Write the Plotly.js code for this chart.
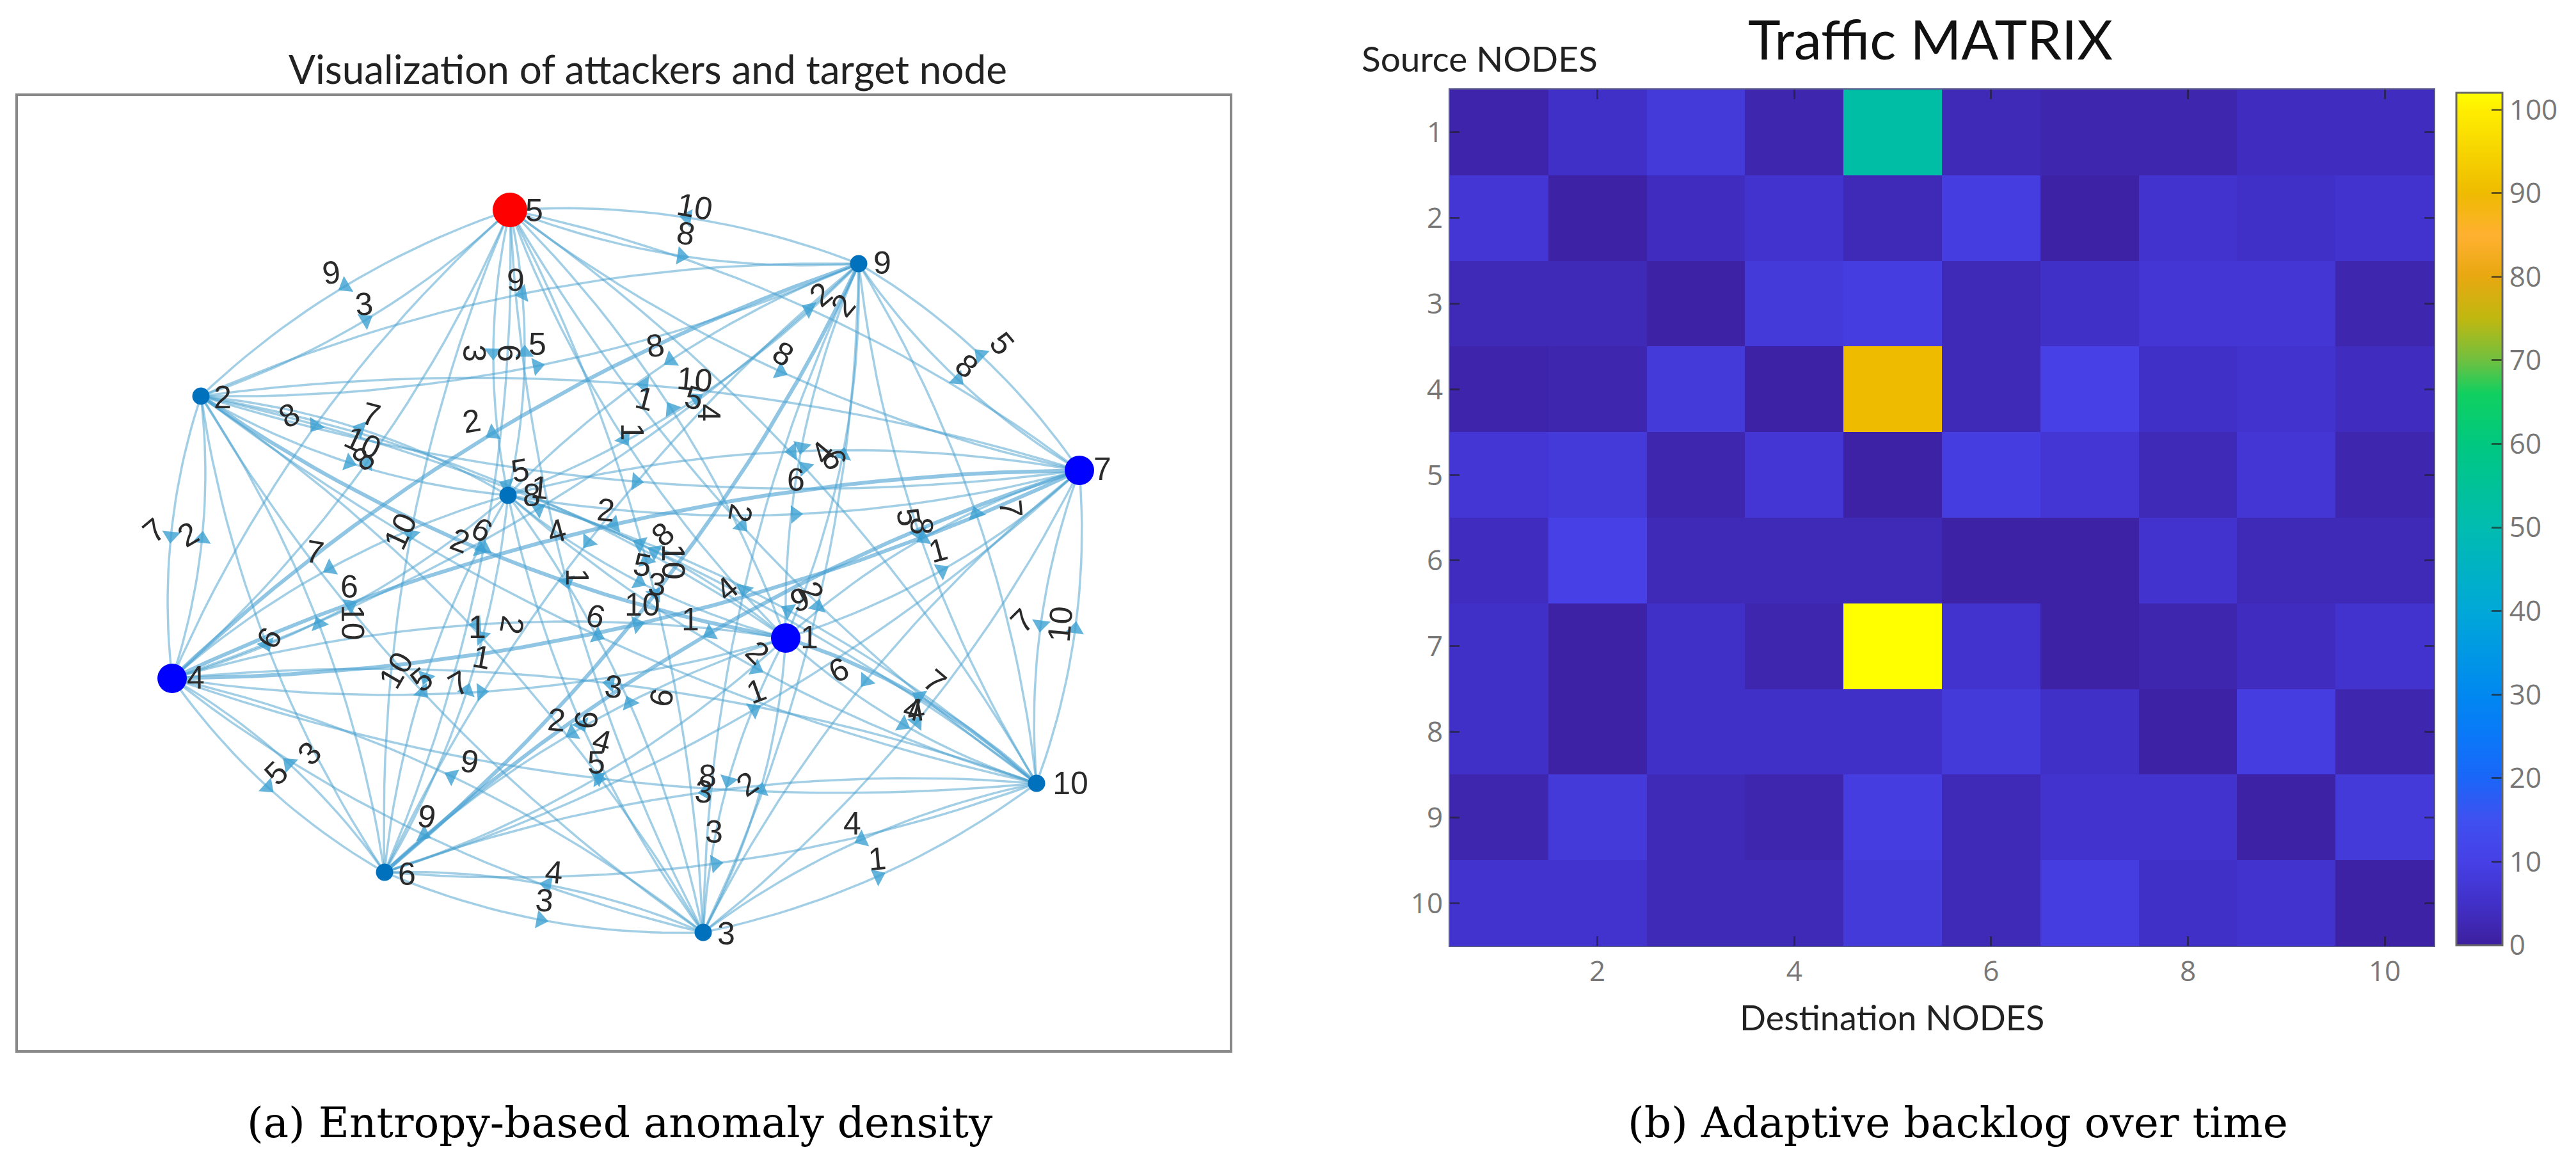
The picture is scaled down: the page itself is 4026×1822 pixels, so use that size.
<!DOCTYPE html>
<html><head><meta charset="utf-8">
<script src="https://cdn.plot.ly/plotly-3.0.0.min.js"></script>
<style>html,body{margin:0;padding:0;background:#fff}#c{width:4026px;height:1822px}</style>
</head><body><div id="c"></div>
<script>
const W=4026,H=1822;
// graph nodes (axis units match the picture's pixels)
const nodeIds=[1,2,3,4,5,6,7,8,9,10];
const nodeX=[1228,314,1099,269,797,601,1687,794,1342,1620];
const nodeY=[997,619,1457,1060,328,1363,735,774,412,1224];
const nodeColor=['#0000ff','#0072BD','#0072BD','#0000ff','#ff0000','#0072BD','#0000ff','#0072BD','#0072BD','#0072BD'];
const nodeSize=[46,27,27,46,54,27,46,27,27,27];
const nodeLabelX=[1265,348,1135,306,835,636,1723,831,1379,1673];
const nodeLabelY=[1000,625,1463,1063,333,1370,737,778,415,1228];
// heavier directed edges
const heavySource=[2,10,4,7,9,7,6];
const heavyTarget=[1,1,7,4,4,6,9];
// edge weight labels
const edgeText=['9','3','3','6','9','5','8','7','10','8','2','10','8','8','10','5','4','1','1','8','10','2','2','4','6','6','5','1','2','4','1','8','10','5','3','10','1','4','2','9','2','2','6','6','2','1','1','3','6','1','2','9','4','5','8','3','2','7','2','7','10','2','6','6','10','6','10','5','7','3','5','9','9','4','3','3','4','1','8','5','5','8','7','1','7','10','7','4','4'];
const edgeX=[518,569,741,795,806,840,1024,580,567,568,737,1086,1072,1224,1086,1085,1108,1008,988,452,1052,1283,1318,1286,1304,1244,813,844,947,870,902,1036,1052,1004,1027,1004,1079,1136,1157,1250,1268,1184,1311,931,800,746,753,959,1034,1182,870,916,941,932,1106,1100,1168,241,294,492,626,719,753,546,551,421,619,659,717,484,432,734,667,866,851,1116,1332,1371,1511,1566,1420,1440,1580,1466,1598,1657,1461,1427,1431];
const edgeY=[426,475,552,552,438,538,540,648,692,717,658,323,365,553,593,622,645,623,675,649,878,460,477,707,718,750,735,762,797,830,902,835,878,883,913,945,968,920,802,937,925,1020,1047,963,977,980,1027,1073,1090,1080,1125,1125,1158,1192,1213,1237,1225,829,835,863,830,845,828,917,973,997,1047,1062,1068,1177,1208,1190,1276,1363,1407,1300,1287,1342,572,537,808,822,795,860,970,975,1065,1108,1110];
const edgeAngle=[-8,-5,90,90,0,0,-10,15,25,-40,-10,10,10,30,5,15,90,15,90,-30,90,-40,-50,-50,60,0,-10,5,5,-15,90,-40,90,10,5,0,0,-40,100,-20,60,45,-25,15,100,0,10,5,-80,-20,5,95,15,0,0,5,-35,-40,-30,10,-65,20,30,0,90,-60,-60,-40,-30,-45,-45,10,10,5,5,0,0,-5,40,50,80,90,85,-15,-45,-85,40,15,-10];
// heatmap
const colTicks=[2,4,6,8,10];
const rowTicks=[1,2,3,4,5,6,7,8,9,10];
const cbTicks=[0,10,20,30,40,50,60,70,80,90,100];
const row1=[1.5,5,8,2,52,3,2,2,4,4];
const row2=[7,1,4,6,3,9,1,6,5,6];
const row3=[3,3,1,8,9,3,5,7,7,2];
const row4=[1.5,2,8,1,90,3,10,5,6,4];
const row5=[7,8,2,7,1,9,7,3,7,2];
const row6=[4,10,3,3,3,1,1,6,3,3];
const row7=[5,1,5,2,102,6,1,2,4,6];
const row8=[5,1,5,5,5,8,5,1,9,2];
const row9=[2,8,3,2,9,3,6,6,1,8];
const row10=[6,6,3,3,8,3,9,5,6,1];
const stopValues=[0,5,10,15,20,25,30,40,50,60,66,70,75,80,85,90,100,102];
const stopColors=['#3d1f9e','#4130c8','#4640e6','#3f50f0','#1a66f8','#0a78f8','#0088f0','#00a8d8','#00bcb0','#00c880','#10d060','#70c040','#c0b810','#e8a810','#ffb030','#eebb00','#ffee00','#ffff00'];
const zMax=102;

const px=x=>x/W, py=y=>1-y/H;
const CURVE=0.11, SAMPLES=24;
const isHeavy=(s,t)=>heavySource.some((v,i)=>v===s&&heavyTarget[i]===t);
const thin={x:[],y:[]},heavy={x:[],y:[]},ax=[],ay=[],aa=[];
nodeIds.forEach((s,i)=>nodeIds.forEach((t,j)=>{
  if(i===j)return;
  const x0=nodeX[i],y0=nodeY[i],x1=nodeX[j],y1=nodeY[j],dx=x1-x0,dy=y1-y0;
  const cx=(x0+x1)/2-dy*CURVE,cy=(y0+y1)/2+dx*CURVE;
  const bucket=isHeavy(s,t)?heavy:thin;
  for(let k=0;k<=SAMPLES;k++){const u=k/SAMPLES,v=1-u;
    bucket.x.push(v*v*x0+2*u*v*cx+u*u*x1);
    bucket.y.push(v*v*y0+2*u*v*cy+u*u*y1);}
  bucket.x.push(null);bucket.y.push(null);
  ax.push(.25*x0+.5*cx+.25*x1);ay.push(.25*y0+.5*cy+.25*y1);
  aa.push(Math.atan2(dx,-dy)*180/Math.PI);
}));
const traces=[
 {type:'scatter',mode:'lines',x:thin.x,y:thin.y,xaxis:'x',yaxis:'y',hoverinfo:'skip',line:{color:'rgba(70,160,205,.5)',width:3.5},showlegend:false},
 {type:'scatter',mode:'lines',x:heavy.x,y:heavy.y,xaxis:'x',yaxis:'y',hoverinfo:'skip',line:{color:'rgba(70,160,210,.6)',width:6},showlegend:false},
 {type:'scatter',mode:'markers',x:ax,y:ay,xaxis:'x',yaxis:'y',hoverinfo:'skip',marker:{symbol:'triangle-up',size:25,angle:aa,opacity:.8,color:'rgb(60,160,210)',line:{width:0}},showlegend:false},
 {type:'scatter',mode:'markers',x:nodeX,y:nodeY,xaxis:'x',yaxis:'y',marker:{size:nodeSize,opacity:1,color:nodeColor,line:{width:0}},showlegend:false},
 {type:'scatter',mode:'text',x:nodeLabelX,y:nodeLabelY,text:nodeIds.map(String),textposition:'middle center',xaxis:'x',yaxis:'y',textfont:{family:'Liberation Sans',size:50,color:'#2a2a2a'},showlegend:false},
 {type:'heatmap',z:[row1,row2,row3,row4,row5,row6,row7,row8,row9,row10],x:rowTicks,y:rowTicks,xaxis:'x2',yaxis:'y2',zmin:0,zmax:zMax,zsmooth:false,
  colorscale:stopValues.map((v,i)=>[v/zMax,stopColors[i]]),
  colorbar:{thicknessmode:'pixels',thickness:72,lenmode:'pixels',len:1332,x:px(3839),xanchor:'left',y:py(145),yanchor:'top',xpad:0,ypad:0,outlinecolor:'#666',outlinewidth:3,ticks:'inside',ticklen:18,tickwidth:3,tickcolor:'rgba(30,30,30,.65)',tickvals:cbTicks,tickfont:{family:'Open Sans',size:44,color:'#777'}}}
];
const note=(text,x,y,size,opt)=>Object.assign({text,x:px(x),y:py(y),xref:'paper',yref:'paper',showarrow:false,xanchor:'center',yanchor:'middle',font:{family:'Lato',size,color:'#222'}},opt||{});
const annotations=[
 note('Visualization of attackers and target node',1012,107,62),
 note('Traffic MATRIX',3017,60,86,{font:{family:'Lato',size:86,color:'#111'}}),
 note('Source NODES',2312,91,55),
 note('Destination NODES',2957,1589,54),
 note('(a) Entropy-based anomaly density',969,1754,66,{font:{family:'DejaVu Serif',size:66,color:'#000'}}),
 note('(b) Adaptive backlog over time',3060,1754,66,{font:{family:'DejaVu Serif',size:66,color:'#000'}})
];
edgeText.forEach((t,i)=>annotations.push({text:t,x:edgeX[i],y:edgeY[i],xref:'x',yref:'y',showarrow:false,textangle:edgeAngle[i],xanchor:'center',yanchor:'middle',font:{family:'Liberation Sans',size:50,color:'#2a2a2a'}}));
const layout={width:W,height:H,margin:{l:0,r:0,t:0,b:0},paper_bgcolor:'#fff',plot_bgcolor:'#fff',showlegend:false,annotations,
 xaxis:{domain:[px(28),px(1922)],range:[28,1922],showgrid:false,zeroline:false,showticklabels:false,ticks:'',showline:true,mirror:true,linecolor:'#888',linewidth:4},
 yaxis:{domain:[py(1641),py(150)],range:[1641,150],showgrid:false,zeroline:false,showticklabels:false,ticks:'',showline:true,mirror:true,linecolor:'#888',linewidth:4},
 xaxis2:{domain:[px(2266),px(3804)],range:[.5,10.5],tickvals:colTicks,ticks:'inside',ticklen:15,tickwidth:3,tickcolor:'rgba(30,30,30,.6)',mirror:'ticks',showgrid:false,zeroline:false,showline:true,linecolor:'#5a5a8a',linewidth:2,tickfont:{family:'Open Sans',size:44,color:'#777'},anchor:'y2'},
 yaxis2:{domain:[py(1478),py(140)],range:[10.5,.5],tickvals:rowTicks,ticks:'inside',ticklen:15,tickwidth:3,tickcolor:'rgba(30,30,30,.6)',mirror:'ticks',showgrid:false,zeroline:false,showline:true,linecolor:'#5a5a8a',linewidth:2,tickfont:{family:'Open Sans',size:44,color:'#777'},anchor:'x2'}
};
Plotly.newPlot('c',traces,layout,{displayModeBar:false,staticPlot:true});
</script></body></html>
